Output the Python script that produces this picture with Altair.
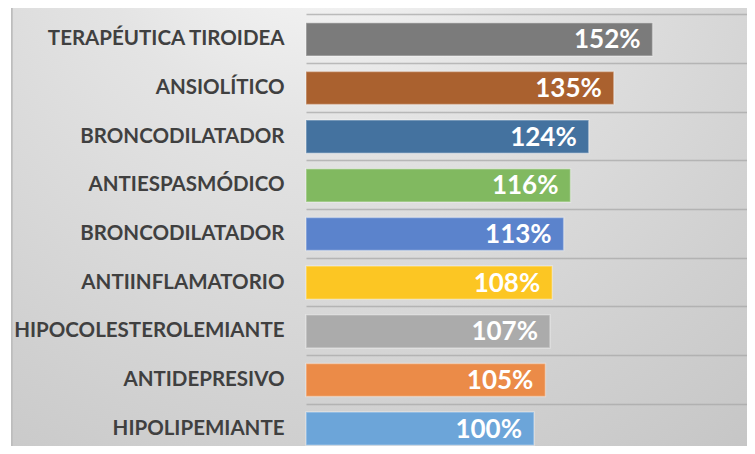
import altair as alt
import pandas as pd

categories = [
    "TERAPÉUTICA TIROIDEA",
    "ANSIOLÍTICO",
    "BRONCODILATADOR",
    "ANTIESPASMÓDICO",
    "BRONCODILATADOR",
    "ANTIINFLAMATORIO",
    "HIPOCOLESTEROLEMIANTE",
    "ANTIDEPRESIVO",
    "HIPOLIPEMIANTE",
]
values = [1.52, 1.35, 1.24, 1.16, 1.13, 1.08, 1.07, 1.05, 1.00]
colors = ["#7b7b7b", "#aa612f", "#44729f", "#81b960", "#5b83cc",
          "#fcc623", "#ababab", "#eb8b48", "#6ca5d9"]

keys = [f"{i:02d} {c}" for i, c in enumerate(categories)]
df = pd.DataFrame({"key": keys, "cat": categories, "value": values, "color": colors})

W, H = 449, 438
FONT = "Lato"

y_enc = alt.Y(
    "key:N",
    sort=keys,
    title=None,
    scale=alt.Scale(paddingInner=0.32, paddingOuter=0.16),
    axis=alt.Axis(
        labelExpr="slice(datum.label, 3)",
        labelFont=FONT,
        labelFontWeight="bold",
        labelFontSize=20.5,
        labelColor="#404040",
        labelPadding=22,
        labelLimit=0,
        ticks=False,
        domain=False,
        grid=True,
        bandPosition=-0.2353,
        gridColor="#a8a8a8",
        gridOpacity=0.75,
        gridWidth=1.5,
        zindex=1,
    ),
)
x_enc = alt.X("value:Q", scale=alt.Scale(domain=[0, W / 228.0]), axis=None)

bg = alt.Chart(df).mark_rect(
    fill={
        "gradient": "radial",
        "x1": 0.40, "y1": 0.05, "r1": 0,
        "x2": 0.40, "y2": 0.05, "r2": 1.0,
        "stops": [
            {"offset": 0.0, "color": "#fbfbfb"},
            {"offset": 0.3, "color": "#e4e4e4"},
            {"offset": 0.7, "color": "#d0d0d0"},
            {"offset": 1.0, "color": "#c2c2c2"},
        ],
    },
    stroke="#bdbdbd",
    strokeWidth=1.5,
).encode(
    x=alt.value(-294), x2=alt.value(W + 20),
    y=alt.value(-8), y2=alt.value(H + 20),
)

bars = alt.Chart(df).mark_bar(
    stroke="white", strokeOpacity=0.35, strokeWidth=1.5
).encode(
    y=y_enc,
    x=x_enc,
    color=alt.Color("color:N", scale=None),
)

labels = alt.Chart(df).mark_text(
    align="right", baseline="middle", dx=-12, dy=1,
    font=FONT, fontWeight="bold", fontSize=26, color="white",
).encode(
    y=alt.Y("key:N", sort=keys),
    x=x_enc,
    text=alt.Text("value:Q", format=".0%"),
)

chart = alt.layer(bg, bars, labels).properties(
    width=W, height=H,
    autosize=alt.AutoSizeParams(type="none"),
    padding={"left": 298, "top": 7, "right": -8, "bottom": -7},
).configure_view(stroke=None)

chart.save("out.html", embed_options={"renderer": "svg", "actions": False})
